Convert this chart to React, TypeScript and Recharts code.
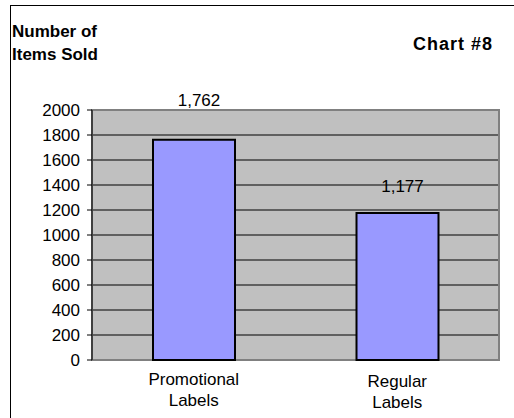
import { BarChart, Bar, XAxis, YAxis, CartesianGrid, ReferenceArea, LabelList } from 'recharts'

const categories = ['Promotional Labels', 'Regular Labels']
const itemsSold = [1762, 1177]
const yTicks = [0, 200, 400, 600, 800, 1000, 1200, 1400, 1600, 1800, 2000]

const data = categories.map((name, i) => ({ name, sold: itemsSold[i] }))

const font = '"Liberation Sans", Arial, sans-serif'
// excel put the value labels at slightly different heights above each bar
const labelGaps = [34, 21]

const CategoryTick = (props: any) => {
  const { x, y, payload, index } = props
  const lines = String(payload.value).split(' ')
  const base = y + 17 + (index === 1 ? 2 : 0)
  return (
    <text x={x} y={base} textAnchor="middle" fontSize={17} fontFamily={font} fill="#000">
      {lines.map((l, i) => (
        <tspan key={i} x={x} dy={i === 0 ? 0 : 21}>
          {l}
        </tspan>
      ))}
    </text>
  )
}

const ValueLabel = (props: any) => {
  const { x, y, width, value, index } = props
  return (
    <text x={x + width / 2 + 5} y={y - labelGaps[index]} textAnchor="middle" fontSize={17} fontFamily={font} fill="#000">
      {Number(value).toLocaleString('en-US')}
    </text>
  )
}

export default function App() {
  return (
    <div style={{ position: 'relative', width: 514, height: 418, background: '#fff', overflow: 'hidden' }}>
      <style>{'body{margin:0}'}</style>
      <div
        style={{
          position: 'absolute',
          left: 10,
          top: 5,
          right: -10,
          bottom: -10,
          borderLeft: '1px solid #000',
          borderTop: '1px solid #000',
        }}
      />
      <div style={{ position: 'absolute', left: 12, top: 20, fontFamily: font, fontWeight: 'bold', fontSize: 17, lineHeight: '23px' }}>
        Number of
        <br />
        Items Sold
      </div>
      <div style={{ position: 'absolute', right: 21, top: 34, fontFamily: font, fontWeight: 'bold', fontSize: 18, letterSpacing: 1 }}>
        Chart #8
      </div>
      <div style={{ position: 'absolute', left: 0, top: 0 }}>
        <BarChart width={514} height={418} data={data} margin={{ top: 110, right: 15, bottom: 0, left: 0 }}>
          <CartesianGrid vertical={false} stroke="#000" fill="#C0C0C0" fillOpacity={1} />
          <ReferenceArea y1={0} y2={2000} fill="none" stroke="#808080" strokeWidth={2} ifOverflow="visible" />
          <XAxis dataKey="name" height={58} axisLine={false} tickLine={false} tick={<CategoryTick />} interval={0} />
          <YAxis
            width={92}
            domain={[0, 2000]}
            ticks={yTicks}
            interval={0}
            tickSize={5}
            tickMargin={7}
            axisLine={{ stroke: '#000' }}
            tickLine={{ stroke: '#000' }}
            tick={{ fill: '#000', fontSize: 17, fontFamily: font }}
          />
          <Bar dataKey="sold" fill="#9999FF" stroke="#000" strokeWidth={2} barSize={82} isAnimationActive={false}>
            <LabelList dataKey="sold" content={<ValueLabel />} />
          </Bar>
        </BarChart>
      </div>
    </div>
  )
}
